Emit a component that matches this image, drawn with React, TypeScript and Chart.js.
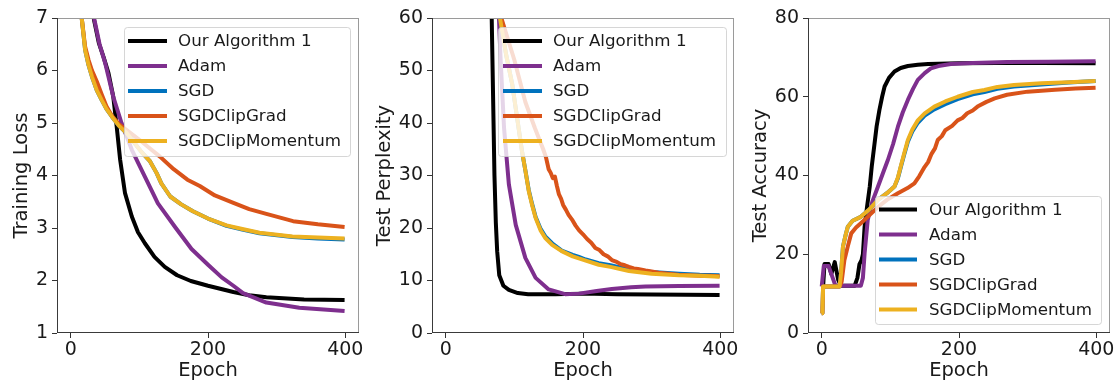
import React, { useEffect, useRef } from "react";
import { Chart, registerables } from "chart.js";

Chart.register(...registerables);

// ---------- shared ----------
const seriesLabels = ["Our Algorithm 1", "Adam", "SGD", "SGDClipGrad", "SGDClipMomentum"];
const seriesColors = ["#000000", "#7E2F8E", "#0072BD", "#D95319", "#EDB120"];
const xTicks = [0, 200, 400];
const xTitle = "Epoch";

// ---------- panel 1: Training Loss ----------
const lossTicks = [1, 2, 3, 4, 5, 6, 7];
const lossOursEpochs = [0, 15, 28, 34, 41, 48, 55, 62, 67, 72, 79, 89, 98, 108, 122, 137, 155, 175, 200, 237, 260, 285, 340, 399];
const lossOurs = [10.5, 8.8, 7.5, 6.96, 6.52, 6.25, 5.95, 5.5, 4.93, 4.3, 3.67, 3.22, 2.92, 2.71, 2.45, 2.26, 2.1, 1.99, 1.9, 1.78, 1.72, 1.68, 1.64, 1.63];
const lossAdamEpochs = [0, 20, 34, 42, 50, 55, 62, 74, 89, 108, 127, 152, 176, 200, 220, 237, 251, 285, 333, 399];
const lossAdam = [10.5, 8.7, 7.0, 6.5, 6.15, 5.88, 5.5, 5.0, 4.49, 3.98, 3.47, 3.02, 2.6, 2.3, 2.06, 1.9, 1.76, 1.58, 1.48, 1.42];
const lossMomEpochs = [0, 8, 16, 21, 26, 31, 38, 45, 52, 60, 70, 82, 103, 115, 125, 132, 145, 161, 178, 200, 227, 250, 275, 323, 360, 399];
const lossSgd = [9.5, 8.0, 7.0, 6.39, 6.1, 5.88, 5.62, 5.44, 5.27, 5.12, 4.95, 4.8, 4.45, 4.28, 4.05, 3.85, 3.6, 3.45, 3.32, 3.18, 3.04, 2.97, 2.9, 2.83, 2.8, 2.78];
const lossClipMom = [9.5, 8.0, 7.0, 6.39, 6.1, 5.88, 5.62, 5.44, 5.27, 5.12, 4.95, 4.8, 4.45, 4.28, 4.05, 3.85, 3.6, 3.45, 3.32, 3.18, 3.05, 2.98, 2.91, 2.84, 2.82, 2.8];
const lossGradEpochs = [0, 8, 16, 21, 26, 31, 38, 45, 52, 60, 70, 82, 100, 115, 130, 150, 170, 188, 210, 237, 260, 285, 324, 360, 399];
const lossClipGrad = [9.5, 8.0, 7.0, 6.45, 6.2, 6.0, 5.79, 5.55, 5.32, 5.14, 4.98, 4.86, 4.68, 4.52, 4.36, 4.12, 3.92, 3.8, 3.62, 3.48, 3.36, 3.27, 3.13, 3.07, 3.02];

// ---------- panel 2: Test Perplexity ----------
const pplTicks = [0, 10, 20, 30, 40, 50, 60];
const pplOursEpochs = [0, 40, 60, 67, 69, 71, 73, 75, 78, 84, 92, 105, 120, 160, 200, 250, 300, 350, 399];
const pplOurs = [400, 150, 80, 60, 45, 30, 21, 15.5, 11, 9, 8.2, 7.6, 7.4, 7.4, 7.5, 7.4, 7.35, 7.3, 7.25];
const pplAdamEpochs = [0, 50, 72, 77.5, 80, 85, 92, 102, 116, 131, 150, 174, 194, 220, 242, 270, 291, 340, 399];
const pplAdam = [400, 150, 75, 60, 52, 39, 28.3, 20.6, 14.3, 10.5, 8.3, 7.4, 7.5, 8.0, 8.4, 8.7, 8.85, 8.95, 9.0];
const pplMomEpochs = [0, 50, 74, 79, 88, 97, 104, 111, 116, 121, 126, 131, 138, 145, 155, 169, 185, 194, 204, 223, 240, 267, 300, 340, 370, 399];
const pplSgd = [400, 150, 75, 60, 53, 47.3, 41, 34.7, 31, 27.2, 24.5, 22.1, 19.9, 18.4, 17.1, 15.7, 14.9, 14.5, 14.0, 13.3, 12.9, 12.1, 11.6, 11.3, 11.1, 11.0];
const pplClipMom = [400, 150, 75, 60, 53, 47.3, 41, 34.7, 31, 27, 24.3, 21.9, 19.6, 18.1, 16.8, 15.6, 14.6, 14.2, 13.8, 13.0, 12.6, 11.8, 11.3, 11.0, 10.9, 10.7];
const pplGradEpochs = [0, 50, 76, 81, 100, 116, 130, 142, 146, 150, 153, 156, 159, 162, 165, 168, 171, 175, 179, 184, 189, 194, 200, 206, 212, 218, 224, 230, 236, 242, 248, 255, 261, 267, 274, 280, 291, 300, 310, 325, 339, 355, 370, 385, 399];
const pplClipGrad = [400, 150, 75, 60, 52, 44, 39, 35, 33.5, 31.2, 30.5, 29.5, 29.8, 28.0, 26.4, 25.6, 24.4, 23.5, 22.5, 21.6, 20.5, 19.6, 18.8, 17.9, 17.2, 16.2, 15.8, 15.0, 14.6, 13.9, 13.6, 13.1, 12.9, 12.6, 12.3, 12.2, 11.9, 11.7, 11.5, 11.3, 11.1, 11.0, 10.9, 10.9, 10.8];

// ---------- panel 3: Test Accuracy ----------
const accTicks = [0, 20, 40, 60, 80];
const accOursEpochs = [0, 2, 4, 10, 14, 19, 24, 28, 48, 52, 55, 58, 60, 62.5, 66, 70, 73, 77, 80, 84, 88, 91.6, 98, 106, 115, 125.5, 140, 155, 200, 256, 320, 399];
const accOurs = [11.8, 11.8, 17.5, 17.5, 15, 18, 13.5, 12, 12, 14, 17.5, 18.5, 20, 27, 32, 37.2, 42.5, 48.2, 52.5, 56.6, 60, 62.6, 64.8, 66.4, 67.3, 67.8, 68.1, 68.3, 68.5, 68.6, 68.6, 68.5];
const accAdamEpochs = [0, 3, 10, 16, 20, 57, 60, 62.5, 67, 74, 82, 89, 96.5, 104, 111, 118, 125.5, 133, 140, 150, 159, 170, 188, 220, 270, 330, 399];
const accAdam = [11.8, 17, 17, 14, 12, 12, 14, 20.3, 28.7, 33.5, 37.2, 40.5, 44, 48, 52.4, 56, 59.2, 62, 64.3, 66, 67.2, 67.8, 68.3, 68.6, 68.8, 68.9, 69.0];
const accMomEpochs = [0, 1, 2, 4, 26, 28, 31, 35, 38, 45, 57, 70, 82, 95, 106, 111, 115, 120, 125.5, 132, 140, 150, 164, 180, 198, 220, 237, 256, 280, 320, 360, 399];
const accSgd = [5, 5, 11.8, 11.8, 11.8, 15, 22, 25, 27, 28.5, 29.5, 31.5, 33.8, 35.5, 37.2, 39.3, 42, 45.2, 48.6, 51.2, 53.4, 55.2, 56.8, 58.1, 59.4, 60.6, 61.2, 62.0, 62.6, 63.1, 63.6, 64.0];
const accClipMom = [5, 5, 11.8, 11.8, 11.8, 15, 22, 25, 27, 28.5, 29.5, 31.5, 33.8, 35.5, 37.2, 39.5, 42.2, 45.5, 49, 51.7, 54, 55.8, 57.5, 58.8, 60, 61.2, 61.7, 62.5, 63, 63.4, 63.7, 64];
const accGradEpochs = [0, 1, 2, 4, 26, 29, 33, 38, 43, 50, 57, 70, 82, 95, 111, 125, 135, 142, 150, 155, 160, 165, 169, 175, 180, 190, 198, 205, 212, 220, 227, 240, 252, 270, 300, 340, 370, 399];
const accClipGrad = [5, 5, 11.8, 11.8, 11.8, 13, 18.5, 22, 25.3, 26.8, 27.9, 30, 32, 33.8, 35.5, 36.8, 38, 39.8, 42.2, 43.4, 45.5, 46.9, 49, 50.0, 51.5, 52.6, 54, 54.6, 55.8, 56.5, 57.5, 58.7, 59.6, 60.5, 61.3, 61.8, 62.1, 62.3];

type Series = { label: string; color: string; x: number[]; y: number[] };
type LegendCfg = { x: number; y: number; w: number; h: number; row0: number; rowGap: number; lineX0: number; lineX1: number; textX: number };
type PanelCfg = {
  left: number; width: number; yWidth: number; padRight: number;
  yMin: number; yMax: number; yTicks: number[]; yTitle: string; yTitlePad: number;
  series: Series[]; legend: LegendCfg;
};

const mk = (xs: number[][], ys: number[][]): Series[] =>
  seriesLabels.map((label, i) => ({ label, color: seriesColors[i], x: xs[i], y: ys[i] }));

const panels: PanelCfg[] = [
  {
    left: 0, width: 370, yWidth: 57, padRight: 11,
    yMin: 1, yMax: 7, yTicks: lossTicks, yTitle: "Training Loss", yTitlePad: 10,
    series: mk(
      [lossOursEpochs, lossAdamEpochs, lossMomEpochs, lossGradEpochs, lossMomEpochs],
      [lossOurs, lossAdam, lossSgd, lossClipGrad, lossClipMom]
    ),
    legend: { x: 124, y: 27, w: 226, h: 129, row0: 41, rowGap: 25, lineX0: 128, lineX1: 167, textX: 178 },
  },
  {
    left: 370, width: 375, yWidth: 62, padRight: 11,
    yMin: 0, yMax: 60, yTicks: pplTicks, yTitle: "Test Perplexity", yTitlePad: 3,
    series: mk(
      [pplOursEpochs, pplAdamEpochs, pplMomEpochs, pplGradEpochs, pplMomEpochs],
      [pplOurs, pplAdam, pplSgd, pplClipGrad, pplClipMom]
    ),
    legend: { x: 128, y: 27, w: 228, h: 129, row0: 41, rowGap: 25, lineX0: 133, lineX1: 172, textX: 183 },
  },
  {
    left: 745, width: 372, yWidth: 63, padRight: 7,
    yMin: 0, yMax: 80, yTicks: accTicks, yTitle: "Test Accuracy", yTitlePad: 4,
    series: mk(
      [accOursEpochs, accAdamEpochs, accMomEpochs, accGradEpochs, accMomEpochs],
      [accOurs, accAdam, accSgd, accClipGrad, accClipMom]
    ),
    legend: { x: 130, y: 196, w: 226, h: 128, row0: 209.5, rowGap: 25, lineX0: 134, lineX1: 172, textX: 184 },
  },
];

const FONT = "'DejaVu Sans', sans-serif";
const TEXT = "#1a1a1a";

function makePlugin(p: PanelCfg) {
  return {
    id: "mplDecor",
    afterDatasetsDraw(chart: any) {
      const ctx: CanvasRenderingContext2D = chart.ctx;
      const a = chart.chartArea;
      ctx.save();
      // spines
      ctx.lineWidth = 1;
      ctx.strokeStyle = "#9a9a9a";
      ctx.beginPath();
      ctx.moveTo(a.left, a.top + 0.5);
      ctx.lineTo(a.right, a.top + 0.5);
      ctx.moveTo(a.right - 0.5, a.top);
      ctx.lineTo(a.right - 0.5, a.bottom);
      ctx.stroke();
      ctx.strokeStyle = "#3a3a3a";
      ctx.beginPath();
      ctx.moveTo(a.left + 0.5, a.top);
      ctx.lineTo(a.left + 0.5, a.bottom);
      ctx.moveTo(a.left, a.bottom - 0.5);
      ctx.lineTo(a.right, a.bottom - 0.5);
      ctx.stroke();
      // legend
      const L = p.legend;
      ctx.beginPath();
      const r = 3;
      if ((ctx as any).roundRect) (ctx as any).roundRect(L.x + 0.5, L.y + 0.5, L.w, L.h, r);
      else ctx.rect(L.x + 0.5, L.y + 0.5, L.w, L.h);
      ctx.fillStyle = "rgba(255,255,255,0.8)";
      ctx.fill();
      ctx.strokeStyle = "rgba(204,204,204,0.8)";
      ctx.lineWidth = 1;
      ctx.stroke();
      ctx.font = `16.7px ${FONT}`;
      ctx.textBaseline = "middle";
      ctx.textAlign = "left";
      p.series.forEach((s, i) => {
        const y = L.row0 + i * L.rowGap;
        ctx.strokeStyle = s.color;
        ctx.lineWidth = 4;
        ctx.lineCap = "butt";
        ctx.beginPath();
        ctx.moveTo(L.lineX0, y);
        ctx.lineTo(L.lineX1, y);
        ctx.stroke();
        ctx.fillStyle = TEXT;
        ctx.fillText(s.label, L.textX, y + 1);
      });
      ctx.restore();
    },
  };
}

function Panel({ p }: { p: PanelCfg }) {
  const ref = useRef<HTMLCanvasElement | null>(null);
  useEffect(() => {
    if (!ref.current) return;
    const chart = new Chart(ref.current, {
      type: "line",
      data: {
        datasets: p.series.map((s, i) => ({
          label: s.label,
          data: s.x.map((x, j) => ({ x, y: s.y[j] })),
          borderColor: s.color,
          backgroundColor: s.color,
          borderWidth: 4,
          pointRadius: 0,
          tension: 0,
          fill: false,
          clip: 0,
          borderJoinStyle: "round",
          borderCapStyle: "butt",
          order: 4 - i,
        })),
      },
      options: {
        animation: false,
        responsive: false,
        devicePixelRatio: 1,
        layout: { padding: { left: 0, top: 18, right: p.padRight, bottom: 0 } },
        plugins: { legend: { display: false }, tooltip: { enabled: false } },
        scales: {
          x: {
            type: "linear",
            min: -20,
            max: 420,
            afterBuildTicks: (sc: any) => {
              sc.ticks = xTicks.map((v) => ({ value: v }));
            },
            afterFit: (sc: any) => {
              sc.height = 50;
              sc.paddingLeft = 0;
              sc.paddingRight = 0;
            },
            grid: { display: true, drawOnChartArea: false, drawTicks: true, tickLength: 5, color: "#333", lineWidth: 1 },
            border: { display: false },
            ticks: { font: { family: FONT, size: 19 }, color: TEXT, padding: 1, maxRotation: 0, autoSkip: false },
            title: { display: true, text: xTitle, font: { family: FONT, size: 19.5 }, color: TEXT, padding: { top: 0, bottom: 0 } },
          },
          y: {
            type: "linear",
            min: p.yMin,
            max: p.yMax,
            afterBuildTicks: (sc: any) => {
              sc.ticks = p.yTicks.map((v) => ({ value: v }));
            },
            afterFit: (sc: any) => {
              sc.width = p.yWidth;
              sc.paddingTop = 0;
              sc.paddingBottom = 0;
            },
            grid: { display: true, drawOnChartArea: false, drawTicks: true, tickLength: 5, color: "#333", lineWidth: 1 },
            border: { display: false },
            ticks: { font: { family: FONT, size: 19 }, color: TEXT, padding: 4, autoSkip: false },
            title: { display: true, text: p.yTitle, font: { family: FONT, size: 19.5 }, color: TEXT, padding: { top: p.yTitlePad, bottom: 0 } },
          },
        },
      } as any,
      plugins: [makePlugin(p)],
    });
    return () => chart.destroy();
  }, [p]);
  return (
    <canvas
      ref={ref}
      width={p.width}
      height={383}
      style={{ position: "absolute", left: p.left, top: 0, width: p.width, height: 383 }}
    />
  );
}

export default function App() {
  return (
    <div style={{ position: "fixed", left: 0, top: 0, width: 1117, height: 383, background: "#ffffff" }}>
      {panels.map((p, i) => (
        <Panel key={i} p={p} />
      ))}
    </div>
  );
}
